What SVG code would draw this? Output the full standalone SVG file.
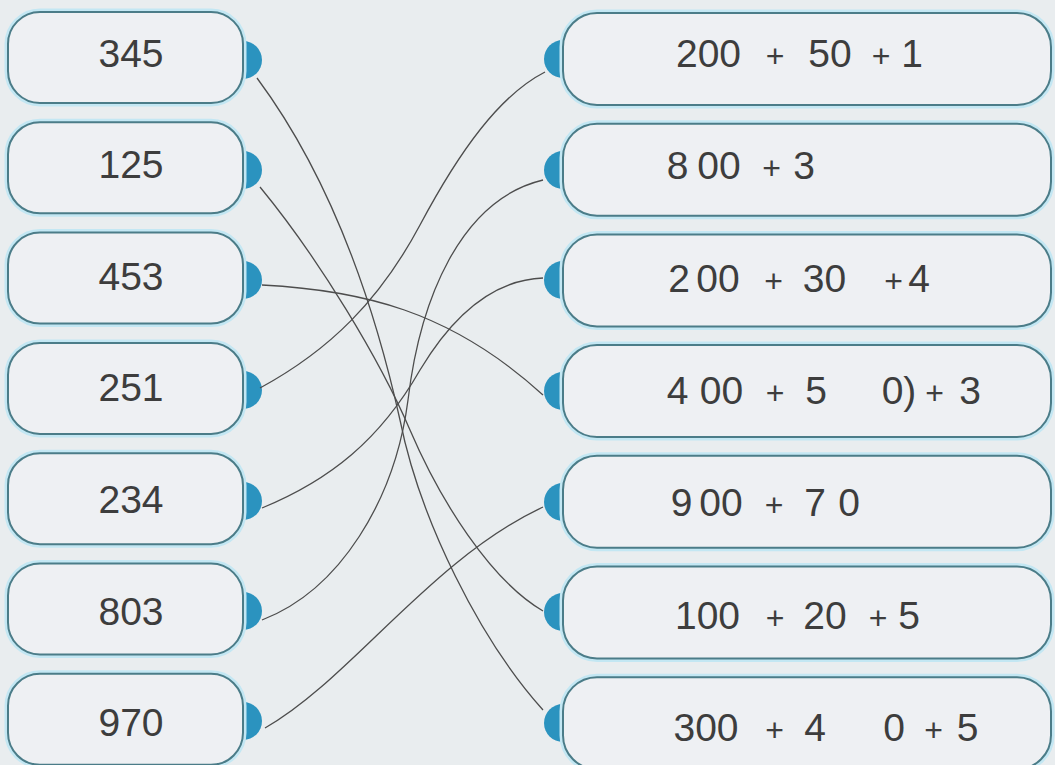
<svg xmlns="http://www.w3.org/2000/svg" width="1055" height="765" viewBox="0 0 1055 765">
<style>
.bg{fill:#e9edef}
.halo{fill:none;stroke:#c3e7f3;stroke-width:7}
.box{fill:#eef0f3;stroke:#4b7c88;stroke-width:2}
.dot{fill:#2b93bf}
.t{font-family:"Liberation Sans",Arial,sans-serif;font-size:39px;fill:#3d3d3d;text-anchor:middle}
.op{font-family:"Liberation Sans",Arial,sans-serif;font-size:32px;fill:#3d3d3d;text-anchor:middle}
.ln{fill:none;stroke:#4d4d4d;stroke-width:1.3}
</style>
<defs>
<rect id="lb" x="8" y="0" width="235" height="91" rx="32"/>
<rect id="rb" x="563" y="0" width="488" height="92" rx="34"/>
</defs>
<rect class="bg" x="0" y="0" width="1055" height="765"/>

<!-- left nodes -->
<g id="n345"><circle class="dot" cx="243" cy="60" r="19"/><use href="#lb" y="12" class="halo"/><use href="#lb" y="12" class="box"/><text class="t" x="131" y="66.5">345</text></g>
<g id="n125"><circle class="dot" cx="243" cy="170" r="19"/><use href="#lb" y="122.3" class="halo"/><use href="#lb" y="122.3" class="box"/><text class="t" x="131" y="178">125</text></g>
<g id="n453"><circle class="dot" cx="243" cy="280" r="19"/><use href="#lb" y="232.6" class="halo"/><use href="#lb" y="232.6" class="box"/><text class="t" x="131" y="289.5">453</text></g>
<g id="n251"><circle class="dot" cx="243" cy="390" r="19"/><use href="#lb" y="342.9" class="halo"/><use href="#lb" y="342.9" class="box"/><text class="t" x="131" y="401">251</text></g>
<g id="n234"><circle class="dot" cx="243" cy="501" r="19"/><use href="#lb" y="453.2" class="halo"/><use href="#lb" y="453.2" class="box"/><text class="t" x="131" y="513">234</text></g>
<g id="n803"><circle class="dot" cx="243" cy="611" r="19"/><use href="#lb" y="563.5" class="halo"/><use href="#lb" y="563.5" class="box"/><text class="t" x="131" y="624.5">803</text></g>
<g id="n970"><circle class="dot" cx="243" cy="721" r="19"/><use href="#lb" y="673.8" class="halo"/><use href="#lb" y="673.8" class="box"/><text class="t" x="131" y="736">970</text></g>

<!-- right nodes -->
<g id="r1"><circle class="dot" cx="563" cy="59" r="19"/><use href="#rb" y="13" class="halo"/><use href="#rb" y="13" class="box"/>
<text class="t" x="708.5" y="67">200</text><text class="op" x="775" y="67">+</text><text class="t" x="830" y="67">50</text><text class="op" x="881" y="67">+</text><text class="t" x="912" y="67">1</text></g>
<g id="r2"><circle class="dot" cx="563" cy="170" r="19"/><use href="#rb" y="123.7" class="halo"/><use href="#rb" y="123.7" class="box"/>
<text class="t" x="677.5" y="179.3">8</text><text class="t" x="719" y="179.3">00</text><text class="op" x="771.5" y="179.3">+</text><text class="t" x="804" y="179.3">3</text></g>
<g id="r3"><circle class="dot" cx="563" cy="280" r="19"/><use href="#rb" y="234.4" class="halo"/><use href="#rb" y="234.4" class="box"/>
<text class="t" x="679" y="291.6">2</text><text class="t" x="718" y="291.6">00</text><text class="op" x="773.5" y="291.6">+</text><text class="t" x="824.5" y="291.6">30</text><text class="op" x="893.5" y="291.6">+</text><text class="t" x="919" y="291.6">4</text></g>
<g id="r4"><circle class="dot" cx="563" cy="391" r="19"/><use href="#rb" y="345.1" class="halo"/><use href="#rb" y="345.1" class="box"/>
<text class="t" x="677.5" y="404">4</text><text class="t" x="721.5" y="404">00</text><text class="op" x="775" y="404">+</text><text class="t" x="816" y="404">5</text><text class="t" x="899" y="404">0)</text><text class="op" x="934.5" y="404">+</text><text class="t" x="970" y="404">3</text></g>
<g id="r5"><circle class="dot" cx="563" cy="502" r="19"/><use href="#rb" y="455.8" class="halo"/><use href="#rb" y="455.8" class="box"/>
<text class="t" x="681.5" y="516">9</text><text class="t" x="721" y="516">00</text><text class="op" x="774" y="516">+</text><text class="t" x="815" y="516">7</text><text class="t" x="849" y="516">0</text></g>
<g id="r6"><circle class="dot" cx="563" cy="612" r="19"/><use href="#rb" y="566.5" class="halo"/><use href="#rb" y="566.5" class="box"/>
<text class="t" x="707.5" y="628.5">100</text><text class="op" x="775" y="628.5">+</text><text class="t" x="825" y="628.5">20</text><text class="op" x="878" y="628.5">+</text><text class="t" x="909" y="628.5">5</text></g>
<g id="r7"><circle class="dot" cx="563" cy="723" r="19"/><use href="#rb" y="677.2" class="halo"/><use href="#rb" y="677.2" class="box"/>
<text class="t" x="706" y="741">300</text><text class="op" x="774.5" y="741">+</text><text class="t" x="815" y="741">4</text><text class="t" x="894" y="741">0</text><text class="op" x="933.5" y="741">+</text><text class="t" x="967.5" y="741">5</text></g>

<!-- connectors -->
<g id="connectors" class="ln">
<path d="M257,78 C340,190 380,330 400,420 C420,520 480,640 543,710"/>
<path d="M260,187 C320,260 380,360 410,430 C440,500 490,580 543,611"/>
<path d="M262,285 C360,290 450,310 543,395"/>
<path d="M260,388 C330,350 380,300 420,225 C460,150 500,95 545,72"/>
<path d="M262,508 C330,480 380,440 420,370 C450,320 490,280 543,278"/>
<path d="M262,620 C340,590 395,500 408,400 C420,300 460,200 543,180"/>
<path d="M265,728 C350,680 430,560 543,507"/>
</g>
</svg>
